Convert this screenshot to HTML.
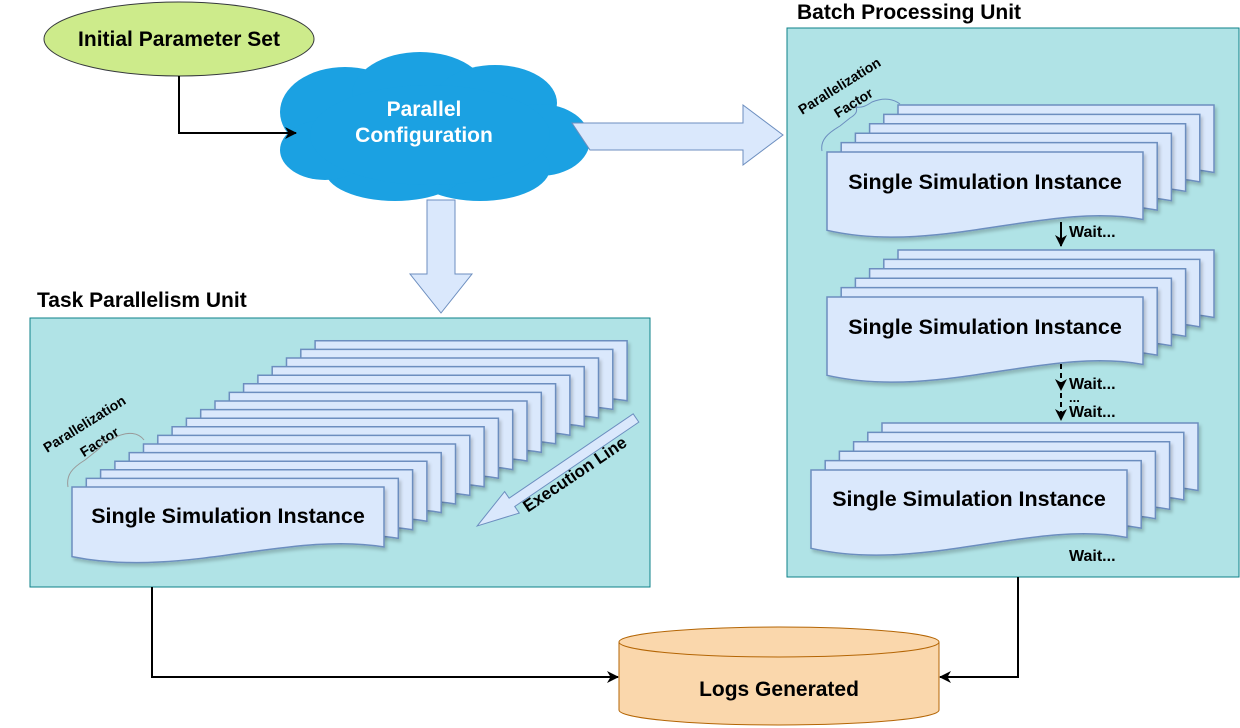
<!DOCTYPE html>
<html><head><meta charset="utf-8"><style>
html,body{margin:0;padding:0;background:#fff;}
svg{display:block;font-family:"Liberation Sans",Arial,sans-serif;}
</style></head><body>
<svg id="s" width="1240" height="728" viewBox="0 0 1240 728" xmlns="http://www.w3.org/2000/svg">
<defs>
<marker id="ah" markerWidth="12" markerHeight="12" refX="11" refY="6" orient="auto" markerUnits="userSpaceOnUse"><path d="M0,0 L12,6 L0,12 L3.5,6 Z" fill="#000"/></marker>
<filter id="sh" x="-5%" y="-5%" width="115%" height="120%"><feDropShadow dx="2" dy="3" stdDeviation="1.5" flood-color="#000" flood-opacity="0.2"/></filter>
</defs>

<!-- Ellipse -->
<ellipse cx="179" cy="39" rx="135" ry="37" fill="#cdeb8b" stroke="#36393d" stroke-width="1"/>
<text x="179" y="46" text-anchor="middle" font-size="21" font-weight="bold">Initial Parameter Set</text>

<!-- Cloud -->
<g fill="#1ba1e2">
<ellipse cx="345" cy="112" rx="65" ry="45"/><ellipse cx="420" cy="95" rx="68" ry="43"/>
<ellipse cx="495" cy="103" rx="62" ry="38"/><ellipse cx="540" cy="140" rx="50" ry="36"/>
<ellipse cx="480" cy="168" rx="70" ry="33"/><ellipse cx="395" cy="170" rx="70" ry="31"/>
<ellipse cx="325" cy="150" rx="45" ry="30"/><ellipse cx="430" cy="135" rx="120" ry="50"/>
</g>
<text x="424" y="116" text-anchor="middle" font-size="21" font-weight="bold" fill="#fff">Parallel</text>
<text x="424" y="142" text-anchor="middle" font-size="21" font-weight="bold" fill="#fff">Configuration</text>
<path d="M179,76 V133 H296" fill="none" stroke="#000" stroke-width="2" marker-end="url(#ah)"/>

<!-- big arrows -->
<path d="M572,123 H743 V105 L783,135 L743,165 V150 H590 Z" fill="#dae8fc" stroke="#6c8ebf"/>
<path d="M427,200 V274 H410 L441,313 L472,274 H455 V200 Z" fill="#dae8fc" stroke="#6c8ebf"/>

<!-- Units -->
<text x="37" y="307" font-size="21" font-weight="bold">Task Parallelism Unit</text>
<rect x="30" y="318" width="620" height="269" fill="#b0e3e6" stroke="#0e8088"/>
<text x="797" y="19" font-size="21" font-weight="bold">Batch Processing Unit</text>
<rect x="787" y="28" width="452" height="549" fill="#b0e3e6" stroke="#0e8088"/>

<g id="stacks"></g>

<!-- Execution line -->
<g transform="translate(636,418) rotate(145.8)">
<path d="M0,-5 H150 V-13 L192,0 L150,13 V5 H0 Z" fill="#dae8fc" stroke="#6c8ebf"/>
</g>
<text transform="translate(578,479) rotate(-34)" text-anchor="middle" font-size="17" font-weight="bold">Execution Line</text>

<!-- Parallelization labels -->
<text transform="translate(87,428) rotate(-32)" text-anchor="middle" font-size="14" font-weight="bold">Parallelization</text>
<text transform="translate(102,446) rotate(-32)" text-anchor="middle" font-size="14" font-weight="bold">Factor</text>
<path d="M68,487 C66,475 72,468 85,460 L95,452 C100,448 104,445 102,441 C108,442 112,440 118,436 C128,432 138,432 144,440" fill="none" stroke="#999" stroke-width="1"/>
<text transform="translate(842,90) rotate(-32)" text-anchor="middle" font-size="14" font-weight="bold">Parallelization</text>
<text transform="translate(856,107) rotate(-32)" text-anchor="middle" font-size="14" font-weight="bold">Factor</text>
<path d="M822,151 C820,140 828,133 840,126 L850,118 C855,115 858,112 856,107 C862,108 866,106 872,102 C882,98 892,98 900,104" fill="none" stroke="#6c8ebf" stroke-width="1"/>

<!-- Waits -->
<path d="M1061,222 V246" stroke="#000" stroke-width="2" fill="none" marker-end="url(#ah)"/>
<text x="1069" y="237" font-size="16" font-weight="bold">Wait...</text>
<path d="M1061,364 V390" stroke="#000" stroke-width="2" stroke-dasharray="5,4" fill="none" marker-end="url(#ah)"/>
<path d="M1061,393 V420" stroke="#000" stroke-width="2" stroke-dasharray="5,4" fill="none" marker-end="url(#ah)"/>
<text x="1069" y="389" font-size="16" font-weight="bold">Wait...</text>
<text x="1069" y="402" font-size="13" font-weight="bold">...</text>
<text x="1069" y="417" font-size="16" font-weight="bold">Wait...</text>
<text x="1069" y="561" font-size="16" font-weight="bold">Wait...</text>

<!-- connectors to logs -->
<path d="M152,587 V677 H618" fill="none" stroke="#000" stroke-width="2" marker-end="url(#ah)"/>
<path d="M1018,577 V677 H940" fill="none" stroke="#000" stroke-width="2" marker-end="url(#ah)"/>

<!-- Cylinder -->
<path d="M619,642 V710 A160,15 0 0 0 939,710 V642" fill="#fad7ac" stroke="#b46504"/>
<ellipse cx="779" cy="642" rx="160" ry="15" fill="#fad7ac" stroke="#b46504"/>
<text x="779" y="696" text-anchor="middle" font-size="21" font-weight="bold">Logs Generated</text>
</svg>
<script>
(function(){
var g=document.getElementById('stacks'),NS='http://www.w3.org/2000/svg';
function doc(x,y,W,H){
 var p=document.createElementNS(NS,'path');
 p.setAttribute('d','M'+x+','+y+' H'+(x+W)+' V'+(y+0.75*H)+' C'+(x+0.7*W)+','+(y+0.55*H)+' '+(x+0.35*W)+','+(y+1.15*H)+' '+x+','+(y+0.87*H)+' Z');
 p.setAttribute('fill','#dae8fc');p.setAttribute('stroke','#6c8ebf');p.setAttribute('stroke-width','1.5');
 p.setAttribute('filter','url(#sh)');g.appendChild(p);
}
function txt(x,y,s){var t=document.createElementNS(NS,'text');t.setAttribute('x',x);t.setAttribute('y',y);t.setAttribute('text-anchor','middle');t.setAttribute('font-size','21.5');t.setAttribute('font-weight','bold');t.textContent=s;g.appendChild(t);}
function stack(x,y,W,H,n,dx,dy){for(var i=n-1;i>=0;i--)doc(x+i*dx,y-i*dy,W,H);}
stack(72,487,312,80,18,14.3,8.6); txt(228,523,'Single Simulation Instance');
stack(827,152,316,90,6,14.2,9.4); txt(985,189,'Single Simulation Instance');
stack(827,297,316,90,6,14.2,9.4); txt(985,334,'Single Simulation Instance');
stack(811,470,316,90,6,14.2,9.4); txt(969,506,'Single Simulation Instance');
})();
</script>
</body></html>
